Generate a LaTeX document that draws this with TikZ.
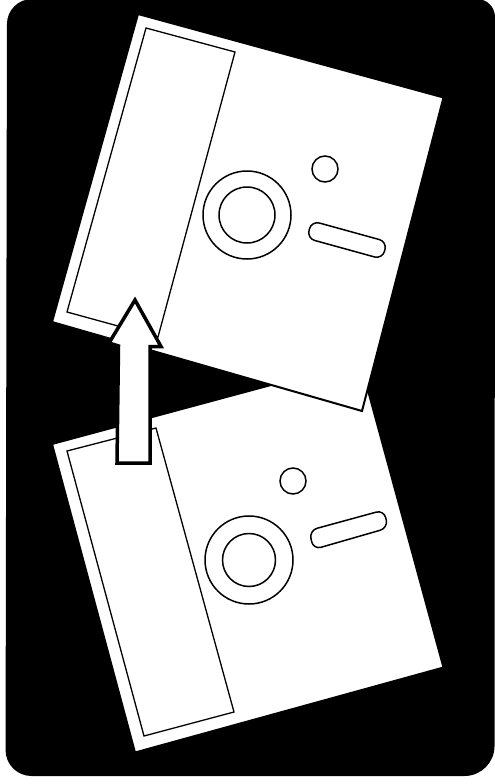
\documentclass[tikz,border=0pt]{standalone}
\usepackage{tikz}
\tikzset{
    disk/.style={fill=white, draw=black, line width=2pt, line join=miter},
    thinline/.style={draw=black, line width=1.3pt},
    holeline/.style={draw=black, line width=1.5pt}
}
\begin{document}
\begin{tikzpicture}[x=1pt, y=-1pt]
        \useasboundingbox (0,0) rectangle (495,784);
        \fill[white] (0,0) rectangle (495,784);
        \fill[black] (100,-1) [rounded corners=18pt] -- (495,-1) [rounded corners=30pt] -- (494.5,776) [rounded corners=26pt] -- (5.5,776) [rounded corners=25pt] -- (7,-1) [sharp corners] -- cycle;
        % Below is the lower disk.
            \draw[disk] (52,444) -- (360,361) -- (443.5,667.5) -- (135,752.5) -- cycle;
            \draw[thinline] (67,451) -- (156,428) -- (234,712) -- (144,736) -- cycle;
            \draw[holeline] (249,560) circle (44);
            \draw[holeline] (249,560) circle (26.5);
            \draw[holeline] (293,481) circle (13);
            \draw[holeline, rounded corners=8pt] (309.3,530.4) -- (384,510) -- (388,528) -- (313.3,549.5) -- cycle;
        % Below is the upper disk.
            \draw[disk] (138,14) -- (443.5,97.5) -- (362,411) -- (52,322) -- cycle;
            \draw[thinline] (146,28) -- (235,52) -- (158,337) -- (67,312) -- cycle;
            \draw[holeline] (247,215) circle (44);
            \draw[holeline] (247,215) circle (28);
            \draw[holeline] (325,169) circle (13);
            \draw[holeline, rounded corners=8pt] (311.7,220.9) -- (387.1,241.7) -- (382.3,259.1) -- (306.9,238.3) -- cycle;
        % This draws the arrow.
            \draw[disk, line width=3.5pt] (135,300) -- (161,346.5) -- (150,346.5) -- (150,463) -- (117,463) -- (118.5,346) -- (109,343) -- cycle;
    \end{tikzpicture}
\end{document}
